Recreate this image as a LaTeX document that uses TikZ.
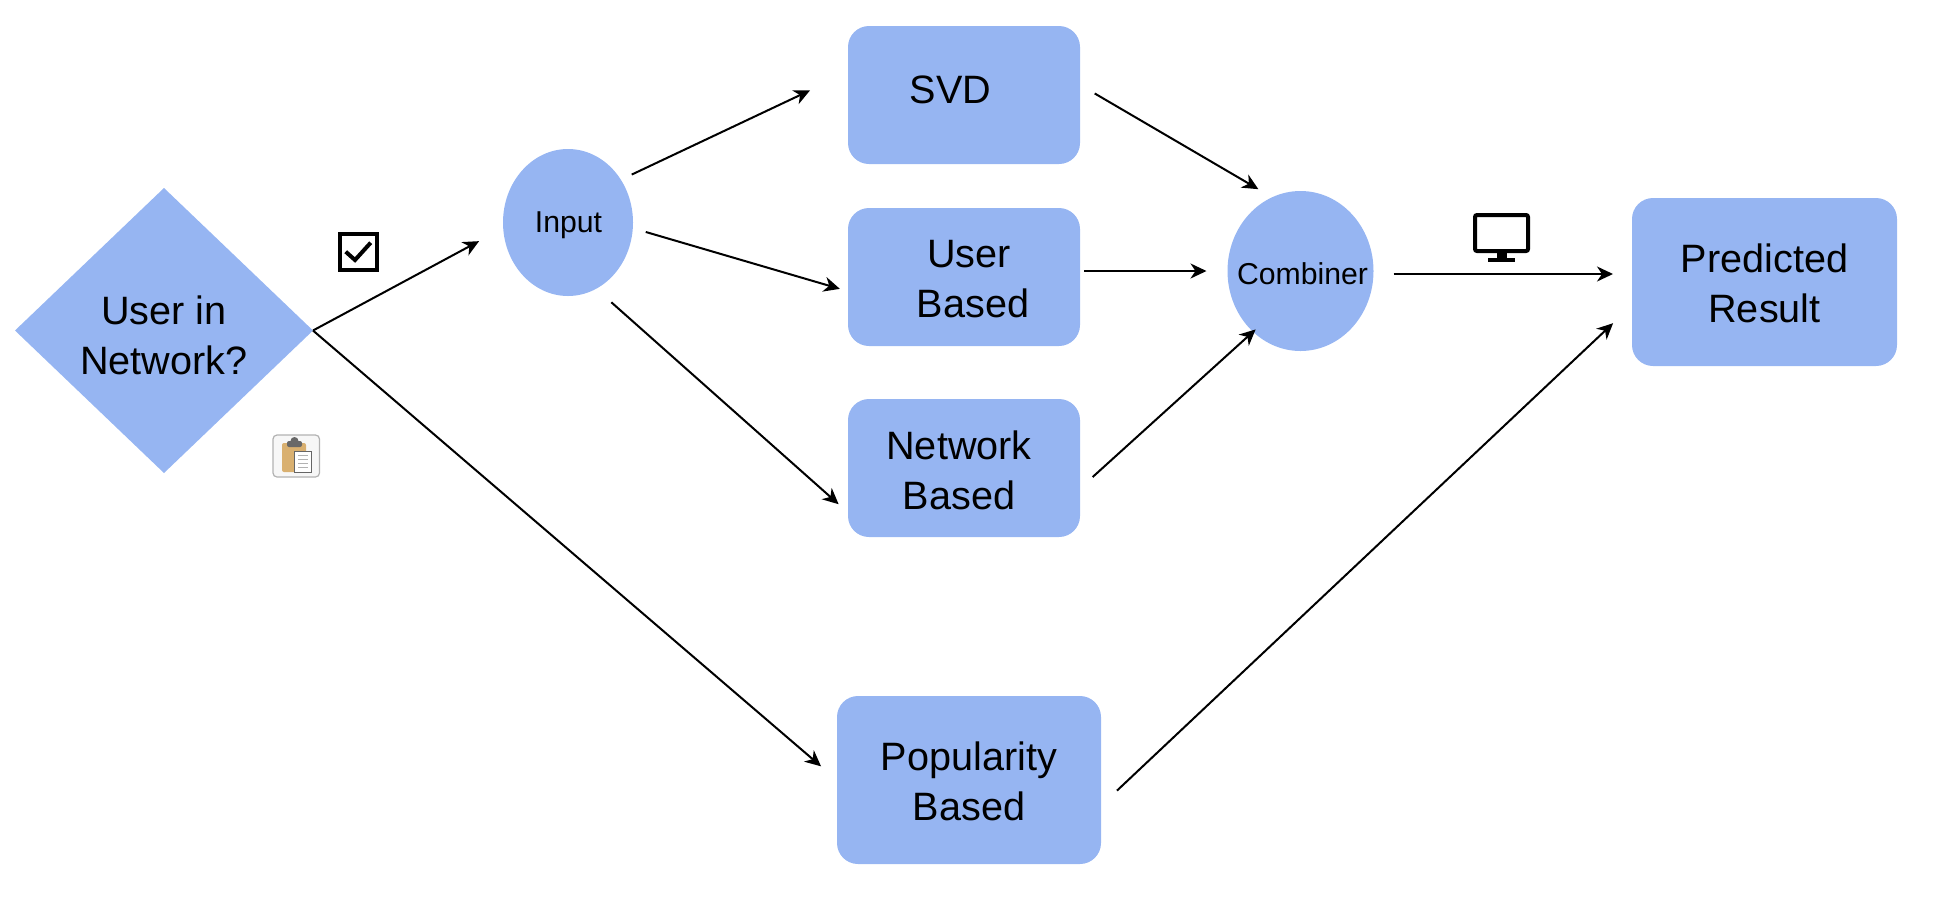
\documentclass[tikz,border=0pt]{standalone}
\usepackage{fontspec}
\setmainfont{Liberation Sans}
\usetikzlibrary{shapes.geometric,arrows.meta}
\definecolor{nodeblue}{HTML}{96B5F2}
\tikzset{
  shapebase/.style={fill=nodeblue,draw=none,inner sep=0pt,outer sep=0pt,align=center,text=black},
  bigtext/.style={font=\fontsize{39.6}{50}\selectfont},
  smalltext/.style={font=\fontsize{30.2}{36}\selectfont},
  roundbox/.style={shapebase,bigtext,rectangle,rounded corners=21pt},
  roundell/.style={shapebase,smalltext,ellipse},
  conn/.style={line width=2pt,draw=black,-{Stealth[length=16pt,width=15pt,inset=5pt]}}
}
\newcommand{\shiftR}[2]{\mbox{\kern#1pt #2}}
\newcommand{\shiftL}[2]{\mbox{#2\kern#1pt}}
\newcommand{\topstrut}[1]{\rule{0pt}{#1pt}}
\newcommand{\botstrut}[1]{\rule[-#1pt]{0pt}{#1pt}}
\begin{document}
\begin{tikzpicture}[x=1pt,y=-1pt]
\useasboundingbox (0,0) rectangle (1938,898);
% nodes
\node[shapebase,bigtext,diamond,shape aspect=1.05,minimum width=298pt,minimum height=285pt] (dia) at (164,330.5) {\topstrut{39}User in\\Network?};
\node[roundell,minimum width=130pt,minimum height=147pt] (inp) at (568,222.5) {\topstrut{27}\mbox{\kern1pt Input}};
\node[roundbox,minimum width=232pt,minimum height=138pt] (svd) at (964,95) {\botstrut{10}\shiftL{27}{SVD}};
\node[roundbox,minimum width=232pt,minimum height=138pt] (usr) at (964,277) {\topstrut{32}\shiftR{10}{User}\\\shiftR{18}{Based}};
\node[roundbox,minimum width=232pt,minimum height=138pt] (net) at (964,468) {\topstrut{33}\shiftL{10}{Network}\\\shiftL{10}{Based}};
\node[roundbox,minimum width=264pt,minimum height=168pt] (pop) at (969,780) {\topstrut{31}Popularity\\Based};
\node[roundell,minimum width=146pt,minimum height=160pt] (cmb) at (1300.5,271) {\topstrut{28}\makebox[0pt]{\kern4pt Combiner}};
\node[roundbox,minimum width=265pt,minimum height=168pt] (res) at (1764.5,282) {\topstrut{31}Predicted\\Result};
% connectors
\draw[conn,shorten >=27.4pt] (dia.east) -- (inp.185.8);
\draw[conn,shorten >=21pt] (dia.east) -- (pop.west);
\draw[conn,shorten <=12pt,shorten >=42pt] (inp.39) -- (svd.169);
\draw[conn,shorten <=13.5pt,shorten >=8.5pt] (inp.-5) -- (usr.187.4);
\draw[conn,shorten <=20.3pt,shorten >=12.5pt] (inp.-67.5) -- (net.201);
\draw[conn,shorten <=17pt,shorten >=16pt] (svd.5) -- (cmb.111.4);
\draw[conn,shorten <=4pt,shorten >=21pt] (cmb.west -| usr.east) -- (cmb.west);
\draw[conn,shorten <=17pt,shorten >=-3.5pt] (net.-10) -- (cmb.232.6);
\draw[conn,shorten <=20pt,shorten >=19pt] ([yshift=-3pt]cmb.east) -- ([yshift=8pt]res.west);
\draw[conn,shorten <=22pt,shorten >=26pt] (pop.-11) -- (res.190.7);
% check box icon
\draw[line width=4pt,black] (340,234) rectangle (377,270);
\draw[line width=4pt,black] (345.7,251.7) -- (355,260) -- (370.7,242.7);
% clipboard icon
\draw[line width=1.2pt,draw=black!30,fill=black!3,rounded corners=4pt] (273,435) rectangle (319.5,477);
\fill[fill={rgb,255:red,217;green,176;blue,112},rounded corners=2pt] (282,443) rectangle (306,472);
\fill[fill={rgb,255:red,104;green,104;blue,104},rounded corners=2pt] (287,441) rectangle (302,447);
\fill[fill={rgb,255:red,104;green,104;blue,104}] (294.5,441) circle (4pt);
\draw[line width=0.8pt,draw=black!60,fill=white] (294.5,451) rectangle (311.5,472.5);
\foreach \yy in {455.5,459.5,463.5,467.5} \draw[line width=1.2pt,black!30] (298,\yy) -- (308,\yy);
% monitor icon
\draw[line width=4pt,black,rounded corners=2pt] (1475,215) rectangle (1528,251);
\fill[black] (1497,252) rectangle (1507,259);
\fill[black] (1488,258) rectangle (1515,262);
\end{tikzpicture}
\end{document}
